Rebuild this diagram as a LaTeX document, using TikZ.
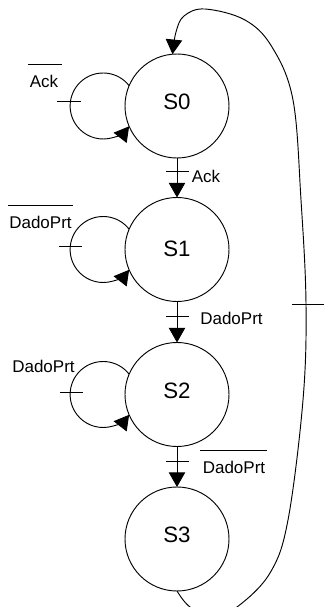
\documentclass[tikz,border=0pt]{standalone}
\usepackage{fontspec}
\setmainfont{Liberation Sans}
\usetikzlibrary{arrows.meta,calc}
\begin{document}
\begin{tikzpicture}[x=0.03cm,y=0.03cm,
  line width=0.8pt,
  state/.style={circle,draw,minimum size=3.12cm,inner sep=0pt,outer sep=0pt},
  stxt/.style={font=\fontsize{19}{20}\selectfont,inner sep=0pt},
  lbl/.style={font=\fontsize{14.5}{16}\selectfont,inner sep=0pt},
  arr/.style={-{Triangle[length=12.5pt,width=14pt]}},
  tickline/.style={line width=0.8pt},
]
\useasboundingbox (0,0) rectangle (324,607);
% states
\node[state] (S0) at (177,501) {};
\node[state] (S1) at (177,357.5) {};
\node[state] (S2) at (177,212.5) {};
\node[state] (S3) at (177,68) {};
\node[stxt] at ([shift={(0,4)}]S0.center) {S0};
\node[stxt] at ([shift={(0,1)}]S1.center) {S1};
\node[stxt] at ([shift={(0,4)}]S2.center) {S2};
\node[stxt] at ([shift={(0,4)}]S3.center) {S3};
% self loops
\draw[arr] (S0.157) arc[start angle=38, end angle=322, radius=33];
\draw[arr] (S1.157) arc[start angle=38, end angle=322, radius=33];
\draw[arr] (S2.157) arc[start angle=38, end angle=322, radius=33];
\draw[tickline] ([shift={(-120,5)}]S0.center) -- ([shift={(-96,5)}]S0.center);
\draw[tickline] ([shift={(-118,3)}]S1.center) -- ([shift={(-95,3)}]S1.center);
\draw[tickline] ([shift={(-117,2)}]S2.center) -- ([shift={(-94,2)}]S2.center);
% forward transitions
\draw[arr] (S0) -- (S1) coordinate[pos=0.35] (t01);
\draw[arr] (S1) -- (S2) coordinate[pos=0.37] (t12);
\draw[arr] (S2) -- (S3) coordinate[pos=0.38] (t23);
\draw[tickline] ([shift={(-11,0)}]t01) -- ([shift={(12,0)}]t01);
\draw[tickline] ([shift={(-11,0)}]t12) -- ([shift={(12,0)}]t12);
\draw[tickline] ([shift={(-11,0)}]t23) -- ([shift={(12,0)}]t23);
% return transition
\coordinate (rt) at (306,303);
\draw[arr] plot[smooth,tension=0.6] coordinates {(S3.south) (190,0) (213,-9) (237,0) (270,34) (288,87) (303,207) (rt) (301,407) (293,507) (272,560) (245,587) (205,598) (184,591) (176,575) (S0.95)};
\draw[tickline] ([shift={(-14,0)}]rt) -- ([shift={(18,0)}]rt);
% labels
\node[lbl] (lL0) at (44,526) {Ack};
\draw[tickline] ([shift={(-1,10)}]lL0.north west) -- ([shift={(3,10)}]lL0.north east);
\node[lbl] (lL1) at (40.5,385) {DadoPrt};
\draw[tickline] ([shift={(-1,10)}]lL1.north west) -- ([shift={(1,10)}]lL1.north east);
\node[lbl] (lL2) at (43.5,241) {DadoPrt};
\node[lbl] (l01) at (206,431) {Ack};
\node[lbl] (l12) at (231.5,289) {DadoPrt};
\node[lbl] (l23) at (234,140) {DadoPrt};
\draw[tickline] ([shift={(-2,10)}]l23.north west) -- ([shift={(1,10)}]l23.north east);
\end{tikzpicture}
\end{document}
